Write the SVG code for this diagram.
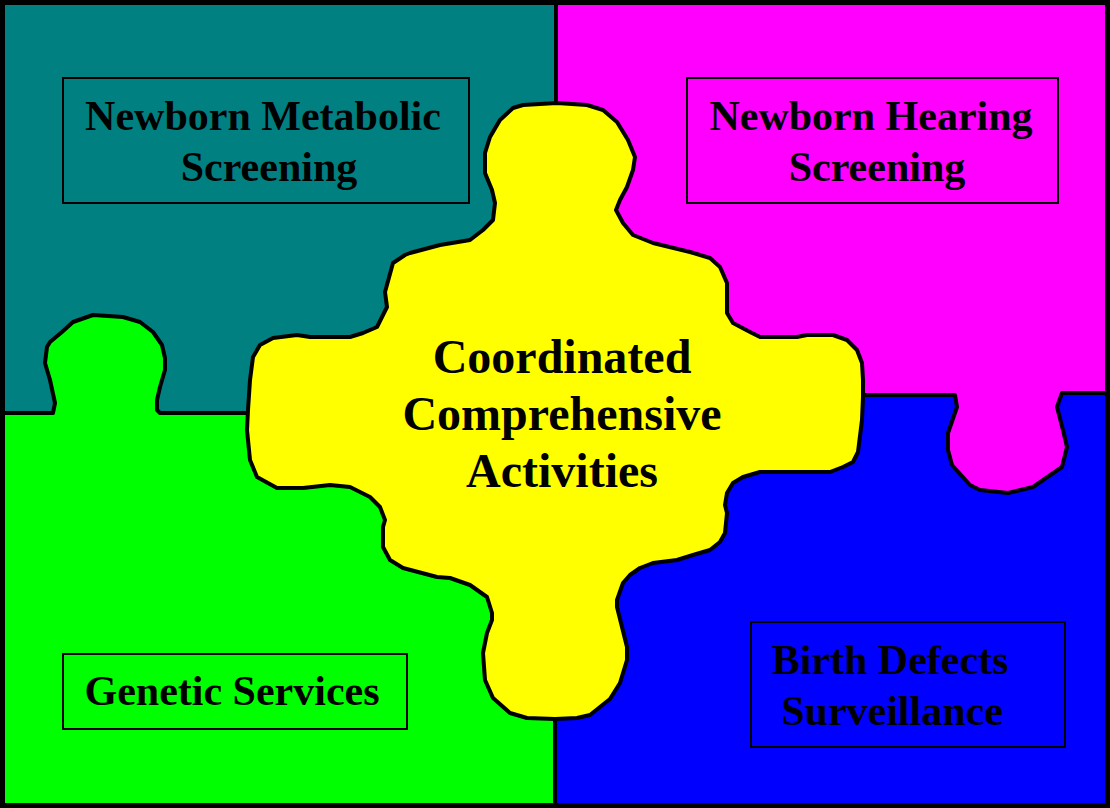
<svg xmlns="http://www.w3.org/2000/svg" width="1110" height="808" viewBox="0 0 1110 808">
<style>
.lbl{font-family:"Liberation Serif","Times New Roman",serif;font-weight:bold;font-size:42px;fill:#000;text-anchor:middle}
.big{font-size:48px}
.box{fill:none;stroke:#000;stroke-width:2}
.edge{fill:none;stroke:#000;stroke-width:4;stroke-linejoin:round;stroke-linecap:round}
</style>
<g id="metabolic">
<rect x="0" y="0" width="556" height="413" fill="#008080"/>
<rect class="box" x="63" y="78" width="406" height="125"/>
<text class="lbl" x="263" y="130">Newborn Metabolic</text>
<text class="lbl" x="269" y="181">Screening</text>
</g>
<g id="hearing">
<rect x="556" y="0" width="554" height="395" fill="#FF00FF"/>
<rect class="box" x="687" y="78" width="371" height="125"/>
<text class="lbl" x="871" y="130">Newborn Hearing</text>
<text class="lbl" x="877" y="181">Screening</text>
</g>
<g id="genetic">
<rect x="0" y="413" width="556" height="395" fill="#00FF00"/>
<polygon fill="#00FF00" points="53,413 55,403 50,380 45,363 47,347 50,342 62,332 73,322 93,315 123,317 140,322 153,332 162,345 165,358 165,370 160,387 157,400 157,410 160,413 160,416 53,416"/>
<rect class="box" x="63" y="654" width="344" height="75"/>
<text class="lbl" x="232" y="705">Genetic Services</text>
</g>
<g id="birth-defects">
<rect x="556" y="395" width="554" height="413" fill="#0000FF"/>
<rect class="box" x="751" y="622" width="314" height="125"/>
<text class="lbl" x="890" y="674">Birth Defects</text>
<text class="lbl" x="892" y="725">Surveillance</text>
</g>
<g id="connectors">
<polygon fill="#FF00FF" points="955,393 955,395 957,407 948,433 948,450 952,465 970,485 980,490 1008,493 1033,487 1062,467 1067,447 1063,430 1057,407 1062,393"/>
<polyline class="edge" points="556,0 556,105"/>
<polyline class="edge" points="555,719 555,808"/>
<polyline class="edge" points="2,413 53,413 55,403 50,380 45,363 47,347 50,342 62,332 73,322 93,315 123,317 140,322 153,332 162,345 165,358 165,370 160,387 157,400 157,410 160,413 250,413"/>
<polyline class="edge" points="862,395 955,395 957,407 948,433 948,450 952,465 970,485 980,490 1008,493 1033,487 1062,467 1067,447 1063,430 1057,407 1062,393 1108,393"/>
</g>
<g id="center">
<polygon fill="#FFFF00" stroke="#000" stroke-width="4" stroke-linejoin="round" points="523,105 557,103 587,105 603,110 617,122 628,140 635,157 633,170 627,187 620,200 616,210 623,223 633,235 653,243 690,252 710,258 720,267 727,283 727,313 733,323 750,332 760,337 797,337 807,335 833,335 847,340 857,350 862,363 863,380 863,397 862,420 858,452 853,462 843,467 830,472 800,472 760,472 743,477 733,483 727,493 725,505 727,513 725,533 720,542 710,550 693,555 677,560 653,563 640,568 630,575 623,583 617,600 617,607 627,647 627,660 620,683 610,699 590,715 577,718 555,719 527,718 510,713 493,698 485,680 483,653 487,633 492,620 492,613 487,597 470,585 450,578 437,577 403,568 390,560 383,547 383,527 385,520 380,507 370,497 350,487 330,485 303,488 277,488 257,477 250,460 247,430 248,410 250,380 253,357 260,345 273,338 297,335 310,337 350,337 363,333 377,327 387,307 385,292 393,263 405,255 410,253 440,245 470,240 483,230 493,220 495,203 492,190 485,173 485,153 490,137 500,120 513,108"/>
<text class="lbl big" x="562" y="373">Coordinated</text>
<text class="lbl big" x="562" y="430">Comprehensive</text>
<text class="lbl big" x="562" y="487">Activities</text>
</g>
<rect x="2.5" y="2.5" width="1105" height="803" fill="none" stroke="#000" stroke-width="5"/>
</svg>
